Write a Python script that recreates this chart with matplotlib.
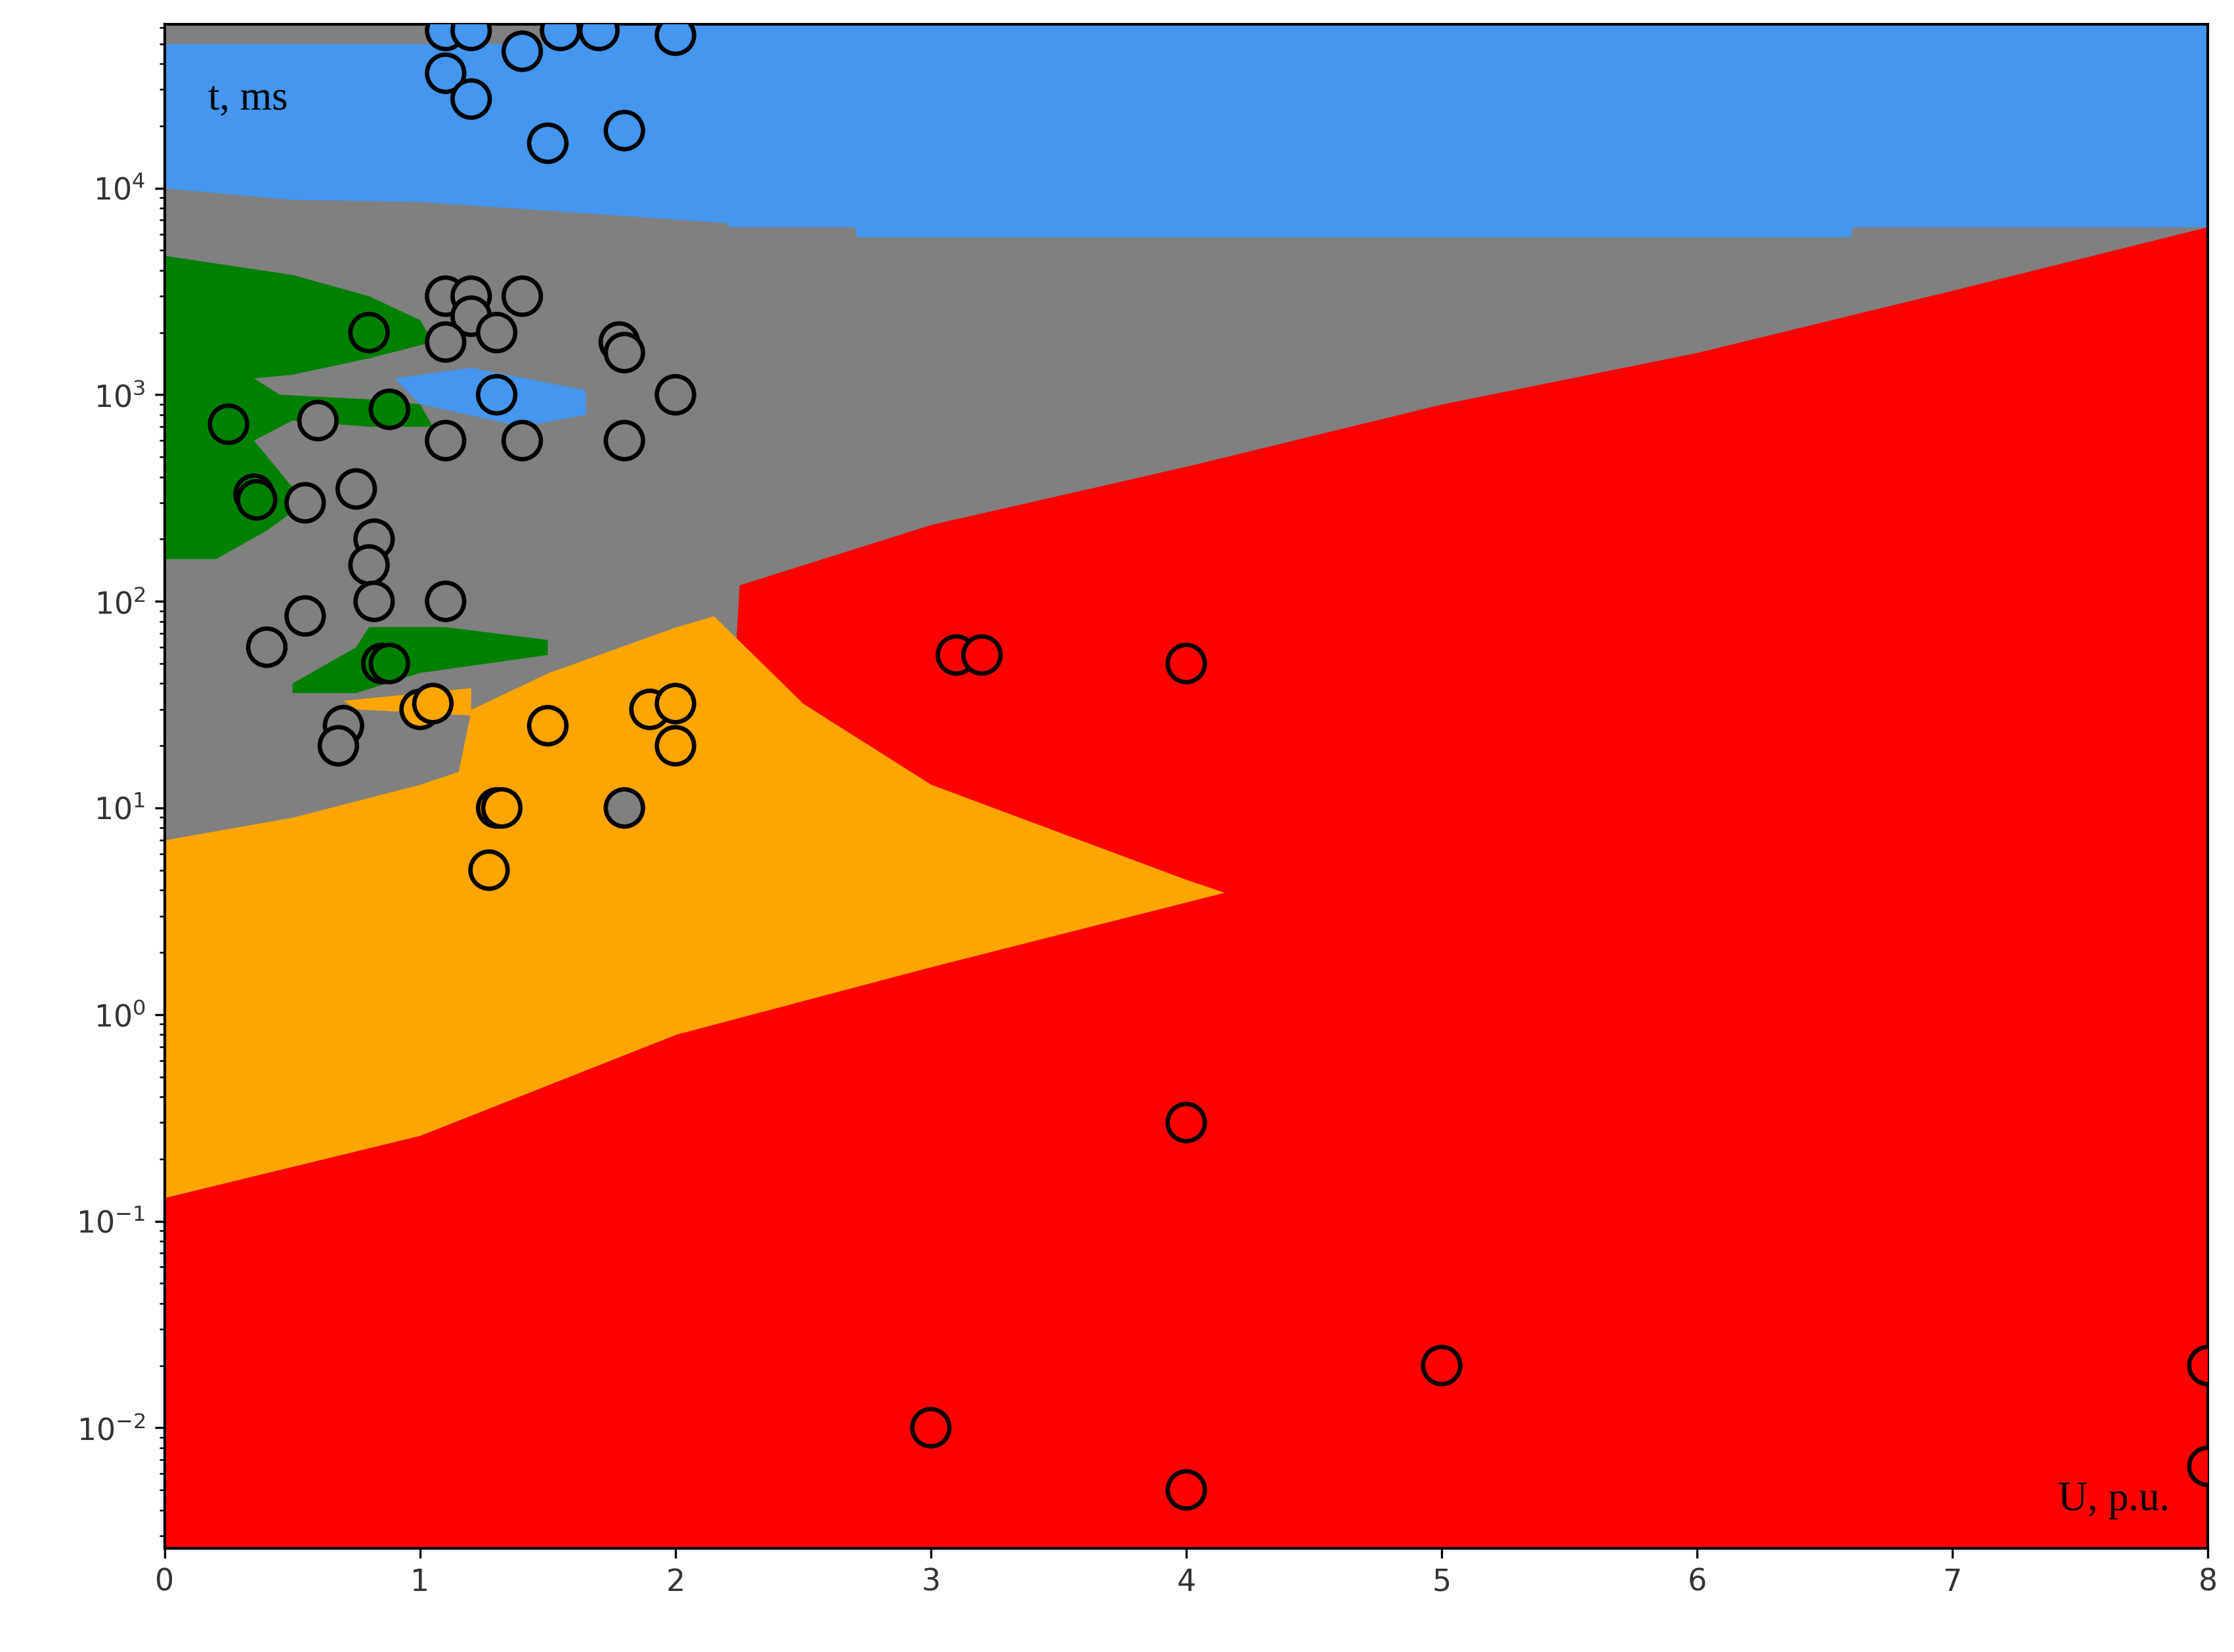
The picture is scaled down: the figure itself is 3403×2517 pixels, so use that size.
import matplotlib
matplotlib.use("Agg")
import matplotlib.pyplot as plt
import numpy as np

RED, ORANGE, GRAY, GREEN, BLUE = "#ff0000", "#ffa500", "#808080", "#008000", "#4496ee"

# region boundaries (U, p.u. -> t, ms)
blue_low_u = [0, 0.5, 1.0, 2.2, 2.21, 2.7, 2.71, 6.6, 6.61, 8]
blue_low_t = [1.0e4, 8.8e3, 8.6e3, 6.8e3, 6.5e3, 6.5e3, 5.8e3, 5.8e3, 6.5e3, 6.5e3]
top_gray_u = [0, 1.5]
top_gray_t = [5.0e4, 5.0e4]
red_top_u = [0, 1, 2, 2.15, 2.25, 3, 4, 5, 6, 7, 8]
red_top_t = [0.13, 0.26, 0.8, 1.0, 120, 235, 450, 900, 1600, 3200, 6500]
orange_bot_u = [0, 1, 2, 3, 4, 4.15]
orange_bot_t = [0.13, 0.26, 0.8, 1.7, 3.5, 3.9]
orange_top_u = [0, 0.5, 1.0, 1.15, 1.2, 1.5, 2.0, 2.15, 2.5, 3.0, 4.0, 4.15]
orange_top_t = [7, 9, 13, 15, 30, 45, 75, 85, 32, 13, 4.5, 3.9]
orange_arm = [(0.7, 33), (1.2, 38), (1.2, 28), (0.75, 30)]
green_left = [(0, 4700), (0.5, 3800), (0.8, 3000), (1.0, 2300), (1.05, 1800), (0.8, 1500),
              (0.5, 1250), (0.35, 1200), (0.45, 1000), (0.8, 950), (1.0, 900), (1.05, 700),
              (0.8, 700), (0.5, 750), (0.35, 600), (0.55, 300), (0.4, 220), (0.2, 160), (0, 160)]
green_mid = [(0.5, 40), (0.75, 60), (0.8, 75), (1.1, 75), (1.5, 65), (1.5, 55), (1.0, 45),
             (0.75, 36), (0.5, 36)]
blue_island = [(0.9, 1200), (1.2, 1350), (1.65, 1050), (1.65, 800), (1.4, 700), (1.0, 900)]

# samples
pts_u = [1.1, 1.2, 1.55, 1.7, 2.0, 1.1, 1.4, 1.2, 1.5, 1.8,
         1.1, 1.2, 1.4, 1.2, 1.1, 1.3, 1.78, 1.8, 0.6, 1.1, 1.4, 1.8, 2.0, 0.75, 0.55,
         0.82, 0.8, 0.82, 1.1, 0.4, 0.55, 0.7, 0.68, 1.8,
         1.3,
         0.8, 0.88, 0.25, 0.35, 0.36, 0.85, 0.88,
         1.0, 1.05, 1.5, 1.3, 1.32, 1.27, 1.9, 2.0, 2.0,
         3.1, 3.2, 4, 4, 5, 8, 3, 4, 8]
pts_t = [5.8e4, 5.8e4, 5.8e4, 5.8e4, 5.5e4, 3.6e4, 4.6e4, 2.7e4, 1.65e4, 1.9e4,
         3000, 3000, 3000, 2400, 1800, 2000, 1800, 1600, 750, 600, 600, 600, 1000, 350, 300,
         200, 150, 100, 100, 60, 85, 25, 20, 10,
         1000,
         2000, 850, 720, 330, 310, 50, 50,
         30, 32, 25, 10, 10, 5, 30, 32, 20,
         55, 55, 50, 0.3, 0.02, 0.02, 0.01, 0.005, 0.0065]
pts_c = [BLUE] * 10 + [GRAY] * 24 + [BLUE] + [GREEN] * 7 + [ORANGE] * 9 + [RED] * 9


def log_interp(x, xp, tp):
    return 10 ** np.interp(x, xp, np.log10(tp))


fig = plt.figure(figsize=(3404 / 300, 2517 / 300), dpi=300)
ax = fig.add_axes([0.0737, 0.0626, 0.9143, 0.9226])
ax.set_yscale("log")
ax.set_xlim(0, 8)
ax.set_ylim(2.6e-3, 6.2e4)
ax.set_facecolor(GRAY)
top = 6.2e4

u = np.linspace(0, 8, 801)
ax.fill_between(u, log_interp(u, blue_low_u, blue_low_t), top, color=BLUE, lw=0)
ax.fill_between(top_gray_u, top_gray_t, top, color=GRAY, lw=0)
ax.fill_between(u, 1e-4, log_interp(u, red_top_u, red_top_t), color=RED, lw=0)
uo = np.linspace(0, 4.15, 416)
ax.fill_between(uo, log_interp(uo, orange_bot_u, orange_bot_t),
                log_interp(uo, orange_top_u, orange_top_t), color=ORANGE, lw=0)
for poly, col in [(orange_arm, ORANGE), (green_left, GREEN), (green_mid, GREEN), (blue_island, BLUE)]:
    xs, ys = zip(*poly)
    ax.fill(xs, ys, color=col, lw=0)

ax.scatter(pts_u, pts_t, s=185, c=pts_c, edgecolors="black", linewidths=1.6, zorder=5)

ax.text(0.17, 2.4e4, "t, ms", family="Liberation Serif", fontsize=15)
ax.text(7.85, 4e-3, "U, p.u.", family="Liberation Serif", fontsize=15, ha="right")
ax.tick_params(labelsize=11, labelcolor="#333333")
for s in ax.spines.values():
    s.set_linewidth(1.0)
fig.savefig("out.png", dpi=300)
